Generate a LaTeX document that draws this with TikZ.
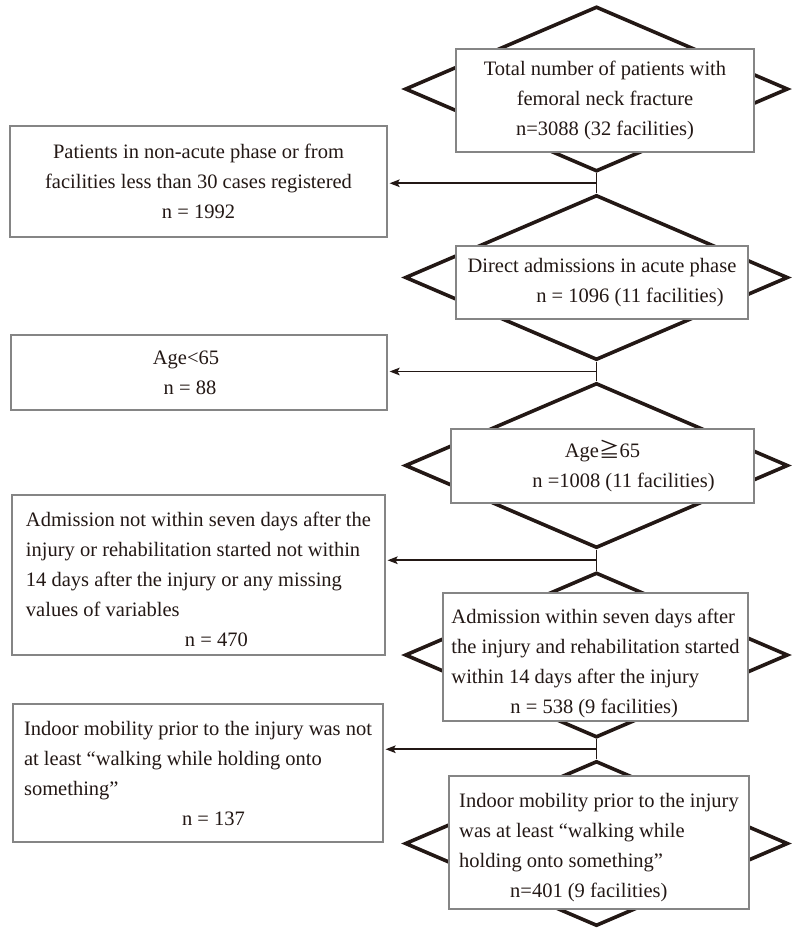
\documentclass[tikz,border=0pt]{standalone}
\usepackage{fontspec}
\setmainfont{Liberation Serif}
\newfontfamily\cjk{Noto Sans CJK JP}
\usepackage{tikz}
\usetikzlibrary{shapes,arrows,positioning,calc,arrows.meta}
\definecolor{inkline}{HTML}{231815}
\definecolor{framegray}{HTML}{858585}

\begin{document}
\begin{tikzpicture}[
      x=1pt, y=-1pt,
      gate/.style={diamond, draw=inkline, line width=3.6pt, minimum width=383pt, minimum height=165pt, inner sep=0pt},
      stage/.style={rectangle, draw=framegray, line width=1.1pt, fill=white, text=inkline, inner sep=0pt, font=\fontsize{20.5pt}{30pt}\selectfont},
      link/.style={draw=inkline, line width=1.8pt},
      arrow/.style={link, -{Stealth[length=10pt,width=7.5pt,inset=2pt]}, shorten >=2pt},
    ]
    \useasboundingbox (0,0) rectangle (792,929);
    % diamonds behind the main column
    \node [gate] (g1) at (596.5, 89) {};
    \node [gate] (g2) at (596.5, 277.5) {};
    \node [gate] (g3) at (596.5, 465.5) {};
    \node [gate] (g4) at (596.5, 655) {};
    \node [gate] (g5) at (596.5, 843.5) {};
    % main column
    \node [stage, minimum width=298pt, minimum height=103pt, align=center] (total) at (605, 100.5) {Total number of patients with\\femoral neck fracture\\n=3088 (32 facilities)};
    \node [stage, minimum width=292pt, minimum height=73pt, align=center] (acute) at (602, 282.5) {Direct admissions in acute phase\\\hspace*{56pt}n = 1096 (11 facilities)};
    \node [stage, minimum width=303pt, minimum height=74pt, align=center] (aged) at (602.5, 466) {Age{\cjk ≧}65\\\hspace*{42pt}n =1008 (11 facilities)};
    \node [stage, minimum width=305pt, minimum height=128pt, align=left] (early) at (595.5, 657) {\rule{0pt}{28pt}Admission within seven days after\\the injury and rehabilitation started\\within 14 days after the injury\\\hspace*{59pt}n = 538 (9 facilities)};
    \node [stage, minimum width=300pt, minimum height=133pt, align=left] (walker) at (599, 842.5) {\rule{0pt}{24pt}Indoor mobility prior to the injury\\was at least ``walking while\\holding onto something''\\\hspace*{51pt}n=401 (9 facilities)};
    % excluded
    \node [stage, minimum width=377pt, minimum height=111pt, align=center] (skip1) at (198.5, 181.5) {Patients in non-acute phase or from\\facilities less than 30 cases registered\\n = 1992};
    \node [stage, minimum width=376pt, minimum height=75pt, align=center] (skip2) at (199, 372.5) {\hspace*{-26pt}Age<65\\\hspace*{-18pt}n = 88};
    \node [stage, minimum width=373pt, minimum height=160pt, align=left] (skip3) at (198.5, 575) {\rule{0pt}{24pt}Admission not within seven days after the\\injury or rehabilitation started not within\\14 days after the injury or any missing\\values of variables\\\hspace*{159pt}n = 470};
    \node [stage, minimum width=370pt, minimum height=138pt, align=left] (skip4) at (198, 773) {Indoor mobility prior to the injury was not\\at least ``walking while holding onto\\something''\\\hspace*{158pt}n = 137};
    % connectors
    \foreach \a/\b/\s in {g1/g2/skip1, g2/g3/skip2, g3/g4/skip3, g4/g5/skip4} {
      \draw [link] (\a.south) -- (\b.north);
      \coordinate (j\s) at ($(\a.south)!0.5!(\b.north)$);
      \draw [arrow] (j\s) -- (j\s -| \s.east);
    }
  \end{tikzpicture}
\end{document}
